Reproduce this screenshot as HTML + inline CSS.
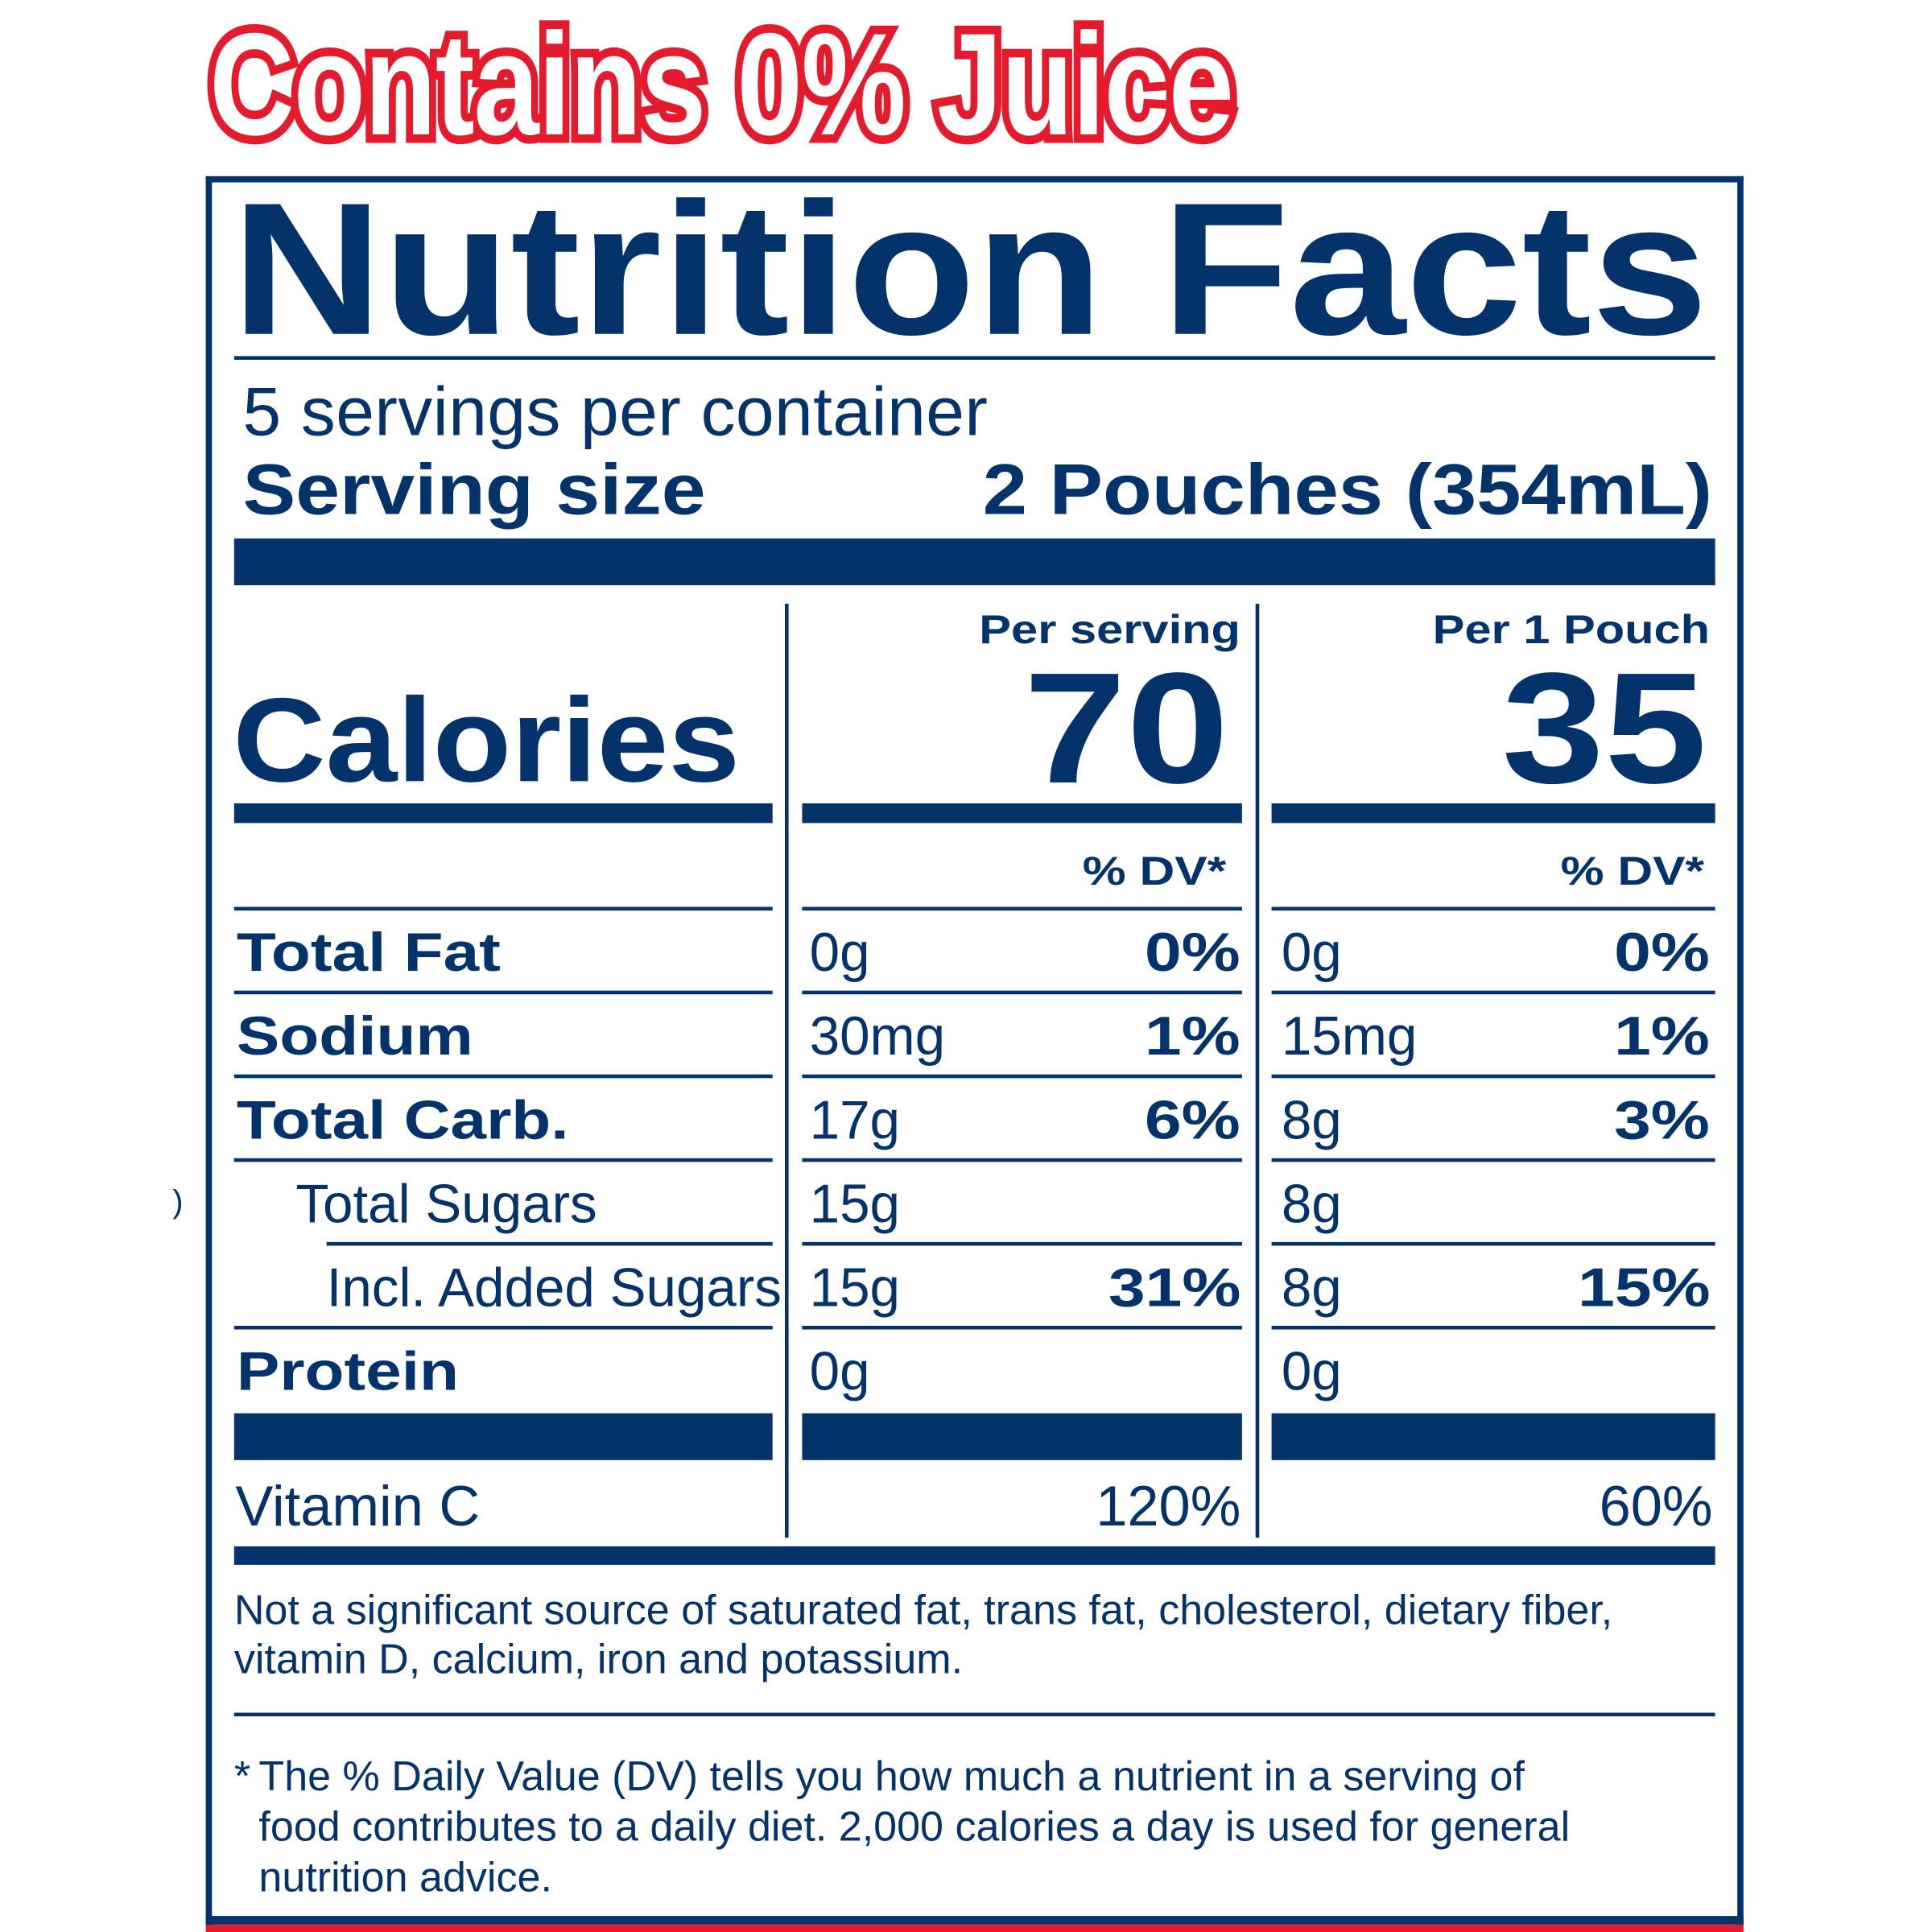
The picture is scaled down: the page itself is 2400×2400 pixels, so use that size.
<!DOCTYPE html>
<html><head><meta charset="utf-8"><style>
html,body{margin:0;padding:0;background:#fff;}
body{width:2400px;height:2400px;overflow:hidden;position:relative;}
#w{position:absolute;left:0;top:0;width:1568px;height:1568px;transform:scale(1.530612);transform-origin:0 0;font-family:"Liberation Sans",sans-serif;color:#04326b;}
.a{position:absolute;white-space:nowrap;line-height:1;}
.b{font-weight:bold;}
.r{position:absolute;background:#04326b;}
.t{transform-origin:0 0;}
.rt{transform-origin:100% 0;text-align:right;}
.L{transform-origin:0 0;transform:scaleX(1.19);}
.P{transform-origin:100% 0;transform:scaleX(1.22);}
</style></head><body><div id="w">
<div class="a b t" style="left:170px;top:10px;font-size:118px;color:#fff;-webkit-text-stroke:14px #e31b2c;paint-order:stroke fill;transform:scaleX(0.81);letter-spacing:-1px;">Contains 0% Juice</div>
<div class="a" style="left:140px;top:962px;font-size:26px;">)</div>
<!-- box -->
<div class="r" style="left:167px;top:143px;width:1248px;height:5px;"></div>
<div class="r" style="left:167px;top:143px;width:5px;height:1420px;"></div>
<div class="r" style="left:1410px;top:143px;width:5px;height:1420px;"></div>
<div class="r" style="left:167px;top:1555px;width:1248px;height:7px;"></div>
<div style="position:absolute;left:167px;top:1562px;width:1248px;height:6px;background:#e31b2c;"></div>

<div class="a b t" style="left:188px;top:142px;font-size:153px;transform:scaleX(1.11);">Nutrition Facts</div>
<div class="r" style="left:190px;top:289px;width:1202px;height:3px;"></div>
<div class="a" style="left:197px;top:306px;font-size:56px;letter-spacing:0.3px;">5 servings per container</div>
<div class="a b L" style="left:197px;top:369px;font-size:58px;transform:scaleX(1.11);">Serving size</div>
<div class="a b rt" style="right:178px;top:369px;font-size:58px;transform:scaleX(1.12);">2 Pouches (354mL)</div>
<div class="r" style="left:190px;top:437px;width:1202px;height:38px;"></div>

<div class="r" style="left:637px;top:490px;width:3px;height:758px;"></div>
<div class="r" style="left:1019px;top:490px;width:3px;height:758px;"></div>

<div class="a b rt" style="right:561px;top:494px;font-size:33px;transform:scaleX(1.18);">Per serving</div>
<div class="a b rt" style="right:180px;top:494px;font-size:33px;transform:scaleX(1.18);">Per 1 Pouch</div>
<div class="a b rt" style="right:571px;top:528px;font-size:128px;transform:scaleX(1.17);">70</div>
<div class="a b rt" style="right:183px;top:528px;font-size:128px;transform:scaleX(1.17);">35</div>
<div class="a b t" style="left:189px;top:552px;font-size:97px;transform:scaleX(1.075);">Calories</div>
<div class="r" style="left:190px;top:652px;width:437px;height:16px;"></div>
<div class="r" style="left:651px;top:652px;width:357px;height:16px;"></div>
<div class="r" style="left:1032px;top:652px;width:360px;height:16px;"></div>
<div class="a b rt" style="right:573px;top:690px;font-size:33px;transform:scaleX(1.2);">% DV*</div>
<div class="a b rt" style="right:185px;top:690px;font-size:33px;transform:scaleX(1.2);">% DV*</div>

<!-- row lines -->
<div class="r" style="left:190px;top:736px;width:437px;height:3px;"></div><div class="r" style="left:651px;top:736px;width:357px;height:3px;"></div><div class="r" style="left:1032px;top:736px;width:360px;height:3px;"></div>
<div class="r" style="left:190px;top:804px;width:437px;height:3px;"></div><div class="r" style="left:651px;top:804px;width:357px;height:3px;"></div><div class="r" style="left:1032px;top:804px;width:360px;height:3px;"></div>
<div class="r" style="left:190px;top:872px;width:437px;height:3px;"></div><div class="r" style="left:651px;top:872px;width:357px;height:3px;"></div><div class="r" style="left:1032px;top:872px;width:360px;height:3px;"></div>
<div class="r" style="left:190px;top:940px;width:437px;height:3px;"></div><div class="r" style="left:651px;top:940px;width:357px;height:3px;"></div><div class="r" style="left:1032px;top:940px;width:360px;height:3px;"></div>
<div class="r" style="left:265px;top:1008px;width:362px;height:3px;"></div><div class="r" style="left:651px;top:1008px;width:357px;height:3px;"></div><div class="r" style="left:1032px;top:1008px;width:360px;height:3px;"></div>
<div class="r" style="left:190px;top:1076px;width:437px;height:3px;"></div><div class="r" style="left:651px;top:1076px;width:357px;height:3px;"></div><div class="r" style="left:1032px;top:1076px;width:360px;height:3px;"></div>

<!-- rows -->
<div class="a b L" style="left:192px;top:752px;font-size:44px;">Total Fat</div>
<div class="a" style="left:657px;top:752px;font-size:44px;">0g</div>
<div class="a b P" style="right:561px;top:752px;font-size:44px;">0%</div>
<div class="a" style="left:1040px;top:752px;font-size:44px;">0g</div>
<div class="a b P" style="right:180px;top:752px;font-size:44px;">0%</div>

<div class="a b L" style="left:192px;top:820px;font-size:44px;">Sodium</div>
<div class="a" style="left:657px;top:820px;font-size:44px;">30mg</div>
<div class="a b P" style="right:561px;top:820px;font-size:44px;">1%</div>
<div class="a" style="left:1040px;top:820px;font-size:44px;">15mg</div>
<div class="a b P" style="right:180px;top:820px;font-size:44px;">1%</div>

<div class="a b L" style="left:192px;top:888px;font-size:44px;">Total Carb.</div>
<div class="a" style="left:657px;top:888px;font-size:44px;">17g</div>
<div class="a b P" style="right:561px;top:888px;font-size:44px;">6%</div>
<div class="a" style="left:1040px;top:888px;font-size:44px;">8g</div>
<div class="a b P" style="right:180px;top:888px;font-size:44px;">3%</div>

<div class="a" style="left:240px;top:956px;font-size:44px;">Total Sugars</div>
<div class="a" style="left:657px;top:956px;font-size:44px;">15g</div>
<div class="a" style="left:1040px;top:956px;font-size:44px;">8g</div>

<div class="a" style="left:265px;top:1024px;font-size:44px;">Incl. Added Sugars</div>
<div class="a" style="left:657px;top:1024px;font-size:44px;">15g</div>
<div class="a b P" style="right:561px;top:1024px;font-size:44px;">31%</div>
<div class="a" style="left:1040px;top:1024px;font-size:44px;">8g</div>
<div class="a b P" style="right:180px;top:1024px;font-size:44px;">15%</div>

<div class="a b L" style="left:192px;top:1092px;font-size:44px;">Protein</div>
<div class="a" style="left:657px;top:1092px;font-size:44px;">0g</div>
<div class="a" style="left:1040px;top:1092px;font-size:44px;">0g</div>

<div class="r" style="left:190px;top:1147px;width:437px;height:38px;"></div>
<div class="r" style="left:651px;top:1147px;width:357px;height:38px;"></div>
<div class="r" style="left:1032px;top:1147px;width:360px;height:38px;"></div>

<div class="a" style="left:191px;top:1199px;font-size:46px;">Vitamin C</div>
<div class="a" style="right:561px;top:1199px;font-size:46px;">120%</div>
<div class="a" style="right:178px;top:1199px;font-size:46px;">60%</div>
<div class="r" style="left:190px;top:1255px;width:1202px;height:15px;"></div>

<div class="a" style="left:190px;top:1287px;font-size:34px;line-height:40px;">Not a significant source of saturated fat, trans fat, cholesterol, dietary fiber,<br>vitamin D, calcium, iron and potassium.</div>
<div class="r" style="left:190px;top:1390px;width:1202px;height:3px;"></div>
<div class="a" style="left:190px;top:1422px;font-size:34px;line-height:41px;">*</div>
<div class="a" style="left:210px;top:1422px;font-size:34px;line-height:41px;">The % Daily Value (DV) tells you how much a nutrient in a serving of<br>food contributes to a daily diet. 2,000 calories a day is used for general<br>nutrition advice.</div>
</div></body></html>
